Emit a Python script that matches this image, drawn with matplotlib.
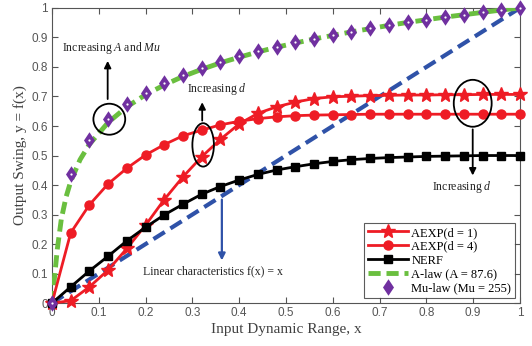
#!/usr/bin/env python3
import numpy as np
import matplotlib
matplotlib.use('Agg')
import matplotlib.pyplot as plt
from matplotlib.patches import Ellipse

# input samples (markers every 0.04)
x = [0.00, 0.04, 0.08, 0.12, 0.16, 0.20, 0.24, 0.28, 0.32, 0.36, 0.40, 0.44, 0.48,
     0.52, 0.56, 0.60, 0.64, 0.68, 0.72, 0.76, 0.80, 0.84, 0.88, 0.92, 0.96, 1.00]

aexp_d1 = [0.000, 0.008, 0.055, 0.112, 0.185, 0.264, 0.351, 0.428, 0.496, 0.555, 0.607,
           0.643, 0.665, 0.681, 0.693, 0.699, 0.701, 0.703, 0.704, 0.705, 0.705, 0.706,
           0.706, 0.707, 0.707, 0.707]
aexp_d4 = [0.000, 0.238, 0.333, 0.404, 0.457, 0.502, 0.537, 0.567, 0.586, 0.604, 0.616,
           0.625, 0.631, 0.635, 0.637, 0.638, 0.639, 0.640, 0.640, 0.640, 0.640, 0.640,
           0.640, 0.640, 0.640, 0.640]
nerf = [0.000, 0.055, 0.109, 0.159, 0.211, 0.257, 0.299, 0.335, 0.369, 0.395, 0.417,
        0.436, 0.451, 0.462, 0.472, 0.480, 0.486, 0.490, 0.493, 0.495, 0.497, 0.498,
        0.499, 0.500, 0.500, 0.500]
mulaw = [0.000, 0.436, 0.552, 0.623, 0.673, 0.713, 0.745, 0.772, 0.796, 0.817, 0.836,
         0.853, 0.868, 0.883, 0.896, 0.908, 0.920, 0.931, 0.941, 0.951, 0.960, 0.969,
         0.977, 0.985, 0.993, 1.000]

# A-law drawn as a continuous line (no markers)
x_alaw = [0.00, 0.0114, 0.02, 0.03, 0.04, 0.06, 0.08, 0.12, 0.16, 0.20, 0.24, 0.28, 0.32,
          0.36, 0.40, 0.44, 0.48, 0.52, 0.56, 0.60, 0.64, 0.68, 0.72, 0.76, 0.80, 0.84,
          0.88, 0.92, 0.96, 1.00]
alaw = [0.000, 0.183, 0.285, 0.359, 0.412, 0.486, 0.538, 0.612, 0.665, 0.706, 0.739,
        0.768, 0.792, 0.814, 0.833, 0.851, 0.867, 0.881, 0.895, 0.907, 0.919, 0.930,
        0.941, 0.951, 0.960, 0.969, 0.977, 0.985, 0.993, 1.000]

x_lin = [0.0, 1.0]
y_lin = [0.0, 1.0]

RED = '#ee1c25'
GREEN = '#6abf3f'
BLUE = '#2f52a8'
PURPLE = '#7030a0'
GRAY = '#555555'

serif = ['Liberation Serif', 'DejaVu Serif']
sans = ['Liberation Sans', 'DejaVu Sans']

plt.rcParams['mathtext.fontset'] = 'custom'
plt.rcParams['mathtext.rm'] = 'Liberation Serif'
plt.rcParams['mathtext.it'] = 'Liberation Serif:italic'

fig = plt.figure(figsize=(5.32, 3.46), dpi=100)
ax = fig.add_axes([0.0977, 0.124, 0.8797, 0.853])

ax.plot(x_lin, y_lin, color=BLUE, lw=3, dashes=(3.2, 1.6), zorder=2)
l1, = ax.plot(x, aexp_d1, color=RED, lw=2, marker='*', ms=10, zorder=4, clip_on=False,
              label='AEXP(d = 1)')
l2, = ax.plot(x, aexp_d4, color=RED, lw=2, marker='o', ms=6.5, zorder=4, clip_on=False,
              label='AEXP(d = 4)')
l3, = ax.plot(x, nerf, color='black', lw=2, marker='s', ms=5.5, zorder=4, clip_on=False,
              label='NERF')
l4, = ax.plot(x_alaw, alaw, color=GREEN, lw=3.5, dashes=(2.5, 1.2), zorder=3,
              label='A-law (A = 87.6)')
l5, = ax.plot(x, mulaw, ls='none', marker='d', ms=6.5, mfc=PURPLE, mec=PURPLE, mew=1.8,
              zorder=5, clip_on=False, label='Mu-law (Mu = 255)')
ax.plot(x, mulaw, ls='none', marker='o', ms=1.6, mfc='white', mec='none', zorder=6, clip_on=False)

ax.set_xlim(0, 1)
ax.set_ylim(0, 1)
ax.set_xticks(np.arange(0, 1.01, 0.1))
ax.set_yticks(np.arange(0, 1.01, 0.1))
ax.set_xticklabels(['0', '0.1', '0.2', '0.3', '0.4', '0.5', '0.6', '0.7', '0.8', '0.9', '1'])
ax.set_yticklabels(['0', '0.1', '0.2', '0.3', '0.4', '0.5', '0.6', '0.7', '0.8', '0.9', '1'])
ax.tick_params(direction='in', top=True, right=True, length=4, width=0.8,
               colors=GRAY, labelsize=8.5, pad=3)
for lab in ax.get_xticklabels() + ax.get_yticklabels():
    lab.set_family(sans)
for sp in ax.spines.values():
    sp.set_color(GRAY)
    sp.set_linewidth(0.8)

ax.set_xlabel('Input Dynamic Range, x', family=serif, fontsize=11, color='#404040', labelpad=3)
ax.set_ylabel('Output Swing, y = f(x)', family=serif, fontsize=11, color='#404040', labelpad=3)

leg = ax.legend(handles=[l1, l2, l3, l4, l5], loc='lower right', prop={'family': serif, 'size': 9},
                frameon=True, fancybox=False, edgecolor='#333333', borderpad=0.3,
                labelspacing=0.15, handlelength=3.2, handletextpad=0.3, borderaxespad=0.4)
leg.get_frame().set_linewidth(0.8)
leg.set_zorder(10)

# annotations
tprops = dict(family=serif, fontsize=8.5, color='#222222')
aprops = dict(arrowstyle='-|>', color='black', lw=1.3, mutation_scale=10)

ax.add_patch(Ellipse((0.1225, 0.623), 0.068, 0.105, fill=False, ec='black', lw=1.3, zorder=7))
ax.annotate('', xy=(0.119, 0.83), xytext=(0.119, 0.682), arrowprops=aprops)
ax.text(0.021, 0.863, r'Increasing $\mathit{A}$ and $\mathit{Mu}$', va='center', ha='left', **tprops)

ax.add_patch(Ellipse((0.323, 0.536), 0.046, 0.147, fill=False, ec='black', lw=1.3, zorder=7))
ax.annotate('', xy=(0.321, 0.69), xytext=(0.321, 0.609), arrowprops=aprops)
ax.text(0.289, 0.724, r'Increasing $\mathit{d}$', va='center', ha='left', **tprops)

ax.add_patch(Ellipse((0.899, 0.677), 0.081, 0.159, fill=False, ec='black', lw=1.3, zorder=7))
ax.annotate('', xy=(0.899, 0.423), xytext=(0.899, 0.598), arrowprops=aprops)
ax.text(0.813, 0.392, r'Increasing $\mathit{d}$', va='center', ha='left', **tprops)

ax.annotate('', xy=(0.363, 0.135), xytext=(0.363, 0.36),
            arrowprops=dict(arrowstyle='-|>', color=BLUE, lw=1.6, mutation_scale=10))
ax.text(0.194, 0.109, 'Linear characteristics f(x) = x', va='center', ha='left', **tprops)

fig.savefig('out.png', dpi=100)
